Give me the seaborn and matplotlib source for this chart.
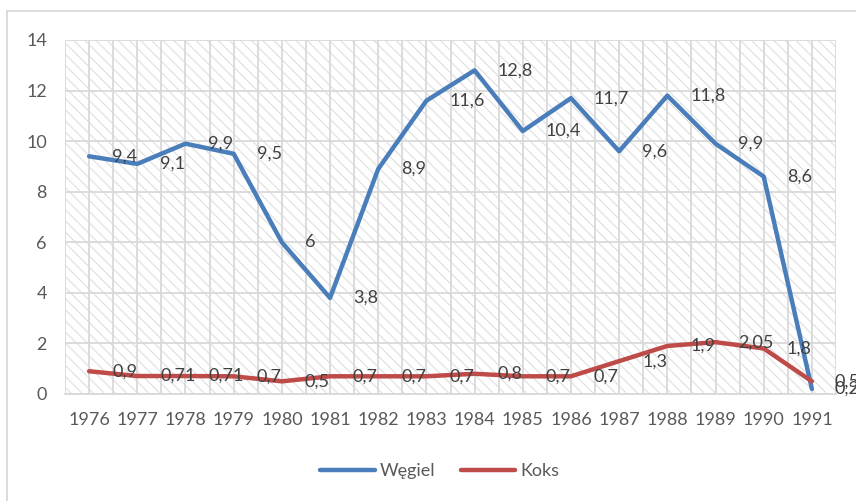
import numpy as np
import pandas as pd
import matplotlib
matplotlib.use('Agg')
import matplotlib.pyplot as plt
from matplotlib.patches import Rectangle
import seaborn as sns

sns.set_theme(style='white')
plt.rcParams['font.family'] = ['Lato', 'DejaVu Sans']
plt.rcParams['hatch.linewidth'] = 0.9

years = [1976, 1977, 1978, 1979, 1980, 1981, 1982, 1983,
         1984, 1985, 1986, 1987, 1988, 1989, 1990, 1991]
wegiel = [9.4, 9.1, 9.9, 9.5, 6, 3.8, 8.9, 11.6,
          12.8, 10.4, 11.7, 9.6, 11.8, 9.9, 8.6, 0.2]
koks = [0.9, 0.71, 0.71, 0.7, 0.5, 0.7, 0.7, 0.7,
        0.8, 0.7, 0.7, 1.3, 1.9, 2.05, 1.8, 0.5]
wegiel_labels = ['9,4', '9,1', '9,9', '9,5', '6', '3,8', '8,9', '11,6',
                 '12,8', '10,4', '11,7', '9,6', '11,8', '9,9', '8,6', '0,2']
koks_labels = ['0,9', '0,71', '0,71', '0,7', '0,5', '0,7', '0,7', '0,7',
               '0,8', '0,7', '0,7', '1,3', '1,9', '2,05', '1,8', '0,5']

df = pd.DataFrame({
    'Rok': years * 2,
    'Wartosc': wegiel + koks,
    'Seria': ['Węgiel'] * len(years) + ['Koks'] * len(years),
})

colors = {'Węgiel': '#4a7ebb', 'Koks': '#be4b48'}
text_col = '#595959'
grid_col = '#d9d9d9'

fig = plt.figure(figsize=(8.56, 5.01), dpi=100)
ax = fig.add_axes([65 / 856, 1 - 394 / 501, (836 - 65) / 856, (394 - 40) / 501])

# outer chart border (cut by the picture edge on the right and bottom)
fig.patches.append(Rectangle((7 / 856, -0.1), 1.0, 1 - 11 / 501 + 0.1,
                             transform=fig.transFigure, fill=False,
                             edgecolor=grid_col, linewidth=1.3))

# hatched plot area
ax.add_patch(Rectangle((0, 0), 1, 1, transform=ax.transAxes, facecolor='white',
                       edgecolor='#e2e2e2', hatch='\\\\\\', linewidth=0, zorder=0.1))

sns.lineplot(data=df, x='Rok', y='Wartosc', hue='Seria', palette=colors,
             linewidth=3.2, ax=ax, legend=True, zorder=3)
for line in ax.lines:
    line.set_solid_capstyle('round')
    line.set_solid_joinstyle('round')

for vals, labs in [(wegiel, wegiel_labels), (koks, koks_labels)]:
    for x, y, t in zip(years, vals, labs):
        ax.annotate(t, (x, y), xytext=(16.5, 0), textcoords='offset points',
                    ha='left', va='center', fontsize=13, color='#404040',
                    annotation_clip=False, zorder=4)

ax.set_xlim(1975.5, 1991.5)
ax.set_ylim(0, 14)
ax.set_xticks(years)
ax.set_xticks(np.arange(1975.5, 1992, 1.0), minor=True)
ax.set_yticks(range(0, 15, 2))
ax.grid(True, which='both', axis='x', color=grid_col, linewidth=1.3)
ax.grid(True, which='major', axis='y', color=grid_col, linewidth=1.3)
ax.set_axisbelow(True)
ax.tick_params(axis='both', which='both', length=0, labelsize=13, colors=text_col)
ax.tick_params(axis='y', pad=13)
ax.tick_params(axis='x', pad=13)
ax.set_xlabel('')
ax.set_ylabel('')
for s in ax.spines.values():
    s.set_visible(False)
ax.spines['bottom'].set_visible(True)
ax.spines['bottom'].set_color(grid_col)
ax.spines['bottom'].set_linewidth(1.3)

handles, labels = ax.get_legend_handles_labels()
leg = fig.legend(handles, labels, loc='center', bbox_to_anchor=(440 / 856, 1 - 471 / 501),
                 ncol=2, frameon=False, fontsize=13, handlelength=3.0,
                 handletextpad=0.3, columnspacing=1.4)
for t in leg.get_texts():
    t.set_color(text_col)
if ax.get_legend():
    ax.get_legend().remove()

fig.savefig('out.png', dpi=100)
